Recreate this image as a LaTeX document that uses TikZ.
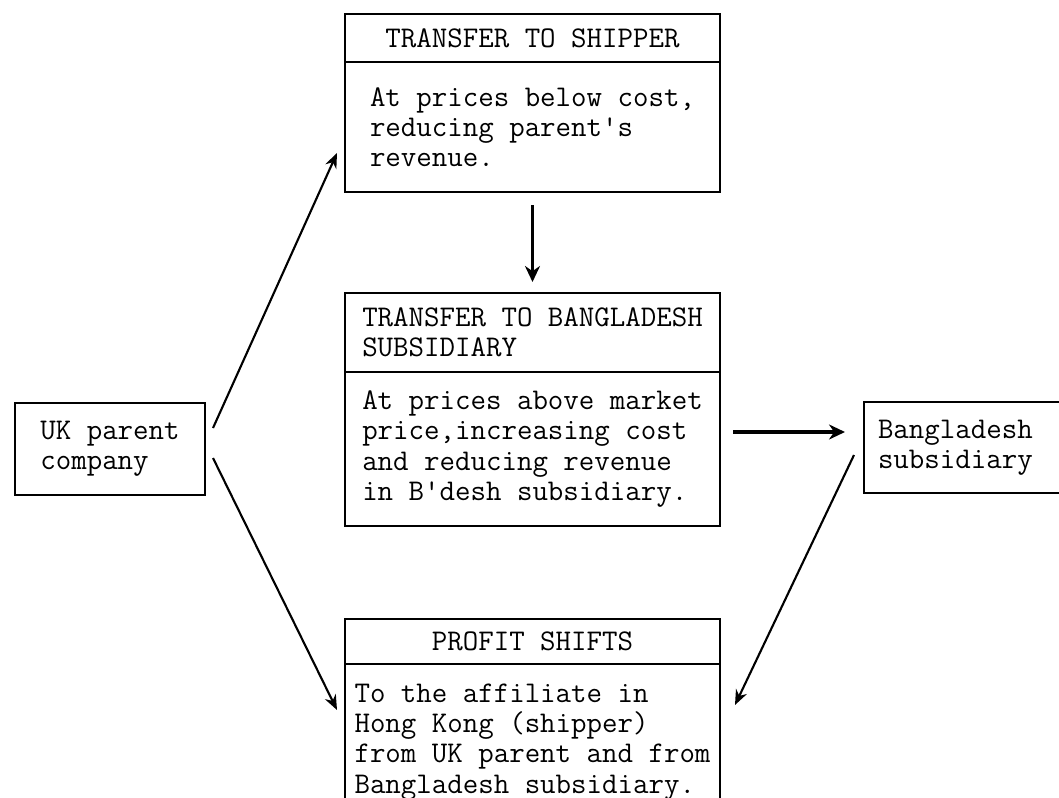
\documentclass[tikz,border=0pt]{standalone}
\usetikzlibrary{positioning,arrows.meta}

\tikzset{
  box/.style={draw,line width=1pt,rectangle,outer sep=0pt,inner sep=0pt,
    font=\ttfamily\fontsize{17.1}{17.2}\selectfont,align=left,minimum width=7.5cm},
  side/.style={draw,line width=1pt,rectangle,outer sep=0pt,inner sep=0pt,
    font=\ttfamily\fontsize{17.1}{17.2}\selectfont,align=left},
  arr/.style={line width=1.2pt,-{Stealth[length=0.3cm,width=0.24cm]}},
  bigarr/.style={line width=2pt,-{Stealth[length=0.32cm,width=0.3cm]}}
}

\begin{document}
\begin{tikzpicture}
   \useasboundingbox (0,0) rectangle (21.18,-15.96);

   \node[box,anchor=north west,minimum height=0.96cm] (shipperhead) at (6.9,-0.28) {TRANSFER TO SHIPPER};
   \node[box,below=0cm of shipperhead,minimum height=2.6cm] (shipper)
      {At prices below cost,\\reducing parent's\\revenue.};

   \node[box,anchor=north west,minimum height=1.58cm] (transferhead) at (6.9,-5.86)
      {TRANSFER TO BANGLADESH\\SUBSIDIARY};
   \node[box,below=0cm of transferhead,minimum height=3.08cm] (transfer)
      {At prices above market\\price,increasing cost\\and reducing revenue\\in B'desh subsidiary.};

   \node[box,anchor=north west,minimum height=0.9cm] (profithead) at (6.9,-12.38) {PROFIT SHIFTS};
   \node[box,below=0cm of profithead,minimum height=3.12cm] (profit)
      {To the affiliate in\\Hong Kong (shipper)\\from UK parent and from\\Bangladesh subsidiary.};

   \node[side,anchor=north west,minimum width=3.8cm,minimum height=1.84cm] (uk) at (0.3,-8.06)
      {UK parent\\company};
   \node[side,anchor=north west,text width=3.5cm,inner xsep=0.28cm,minimum height=1.82cm] (bangla) at (17.28,-8.04)
      {Bangladesh\\subsidiary};

   \draw[bigarr] ([yshift=-0.26cm]shipper.south) -- ([yshift=0.22cm]transferhead.north);
   \draw[arr] ([shift={(0.16,0.42)}]uk.east) -- ([shift={(-0.16,-0.52)}]shipper.west);
   \draw[arr] ([shift={(0.16,-0.18)}]uk.east) -- ([shift={(-0.16,0.64)}]profit.west);
   \draw[bigarr] ([shift={(0.26,0.34)}]transfer.east) -- ([shift={(-0.38,0.31)}]bangla.west);
   \draw[arr] ([shift={(-0.2,-0.15)}]bangla.west) -- ([shift={(0.3,0.74)}]profit.east);
\end{tikzpicture}
\end{document}
